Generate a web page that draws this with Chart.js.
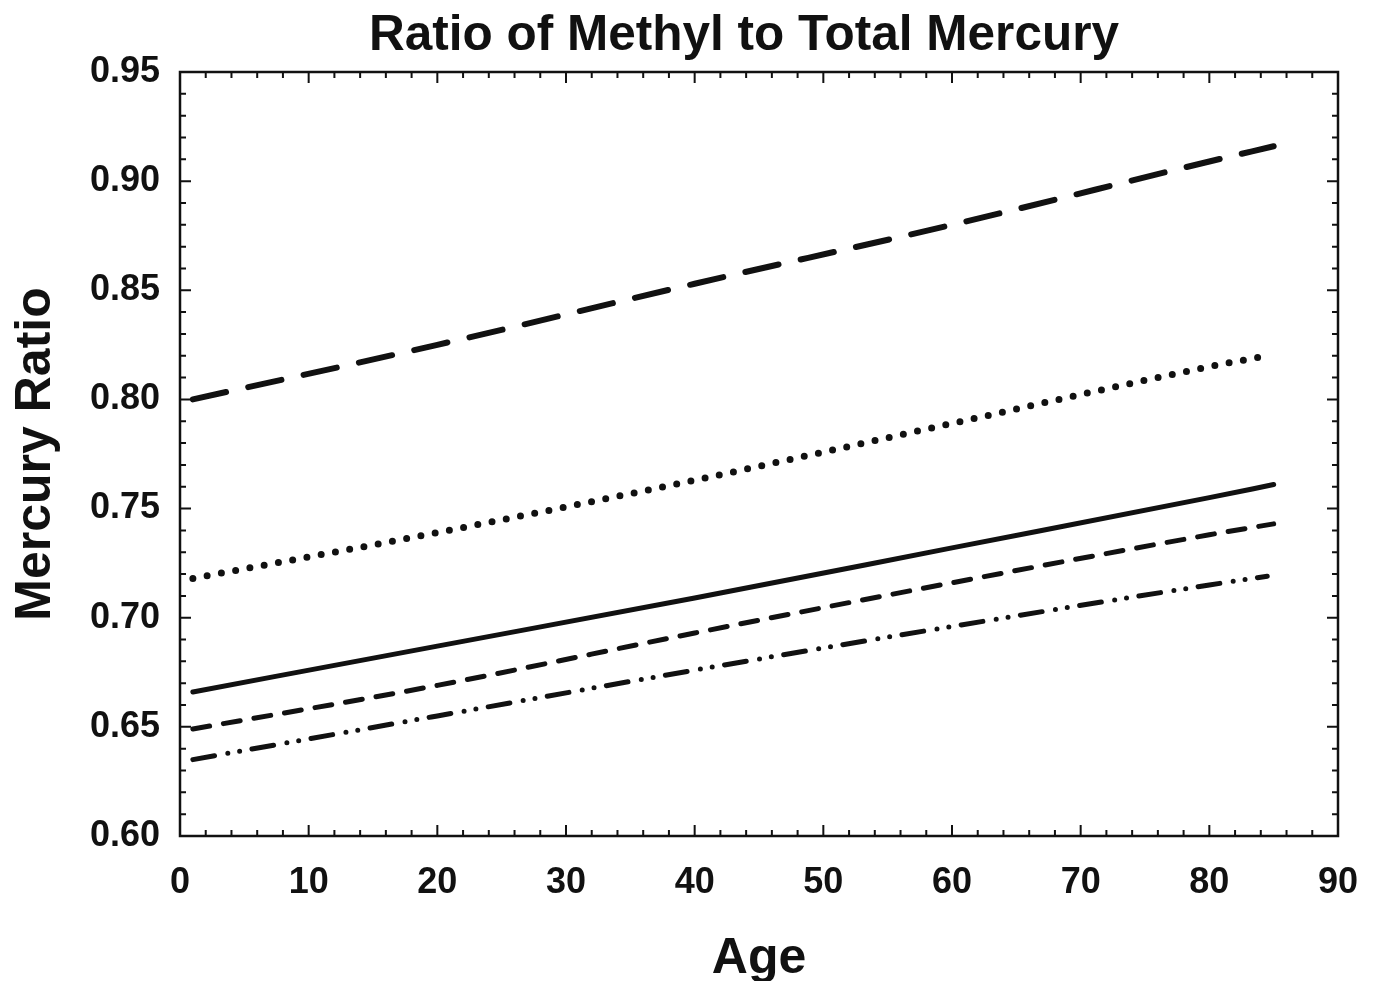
<!DOCTYPE html>
<html>
<head>
<meta charset="utf-8">
<script src="https://cdn.jsdelivr.net/npm/chart.js@4.4.0/dist/chart.umd.min.js"></script>
<style>
  body { margin: 0; background: #fff; }
  #wrap { width: 1376px; height: 981px; }
</style>
</head>
<body>
<div id="wrap"><canvas id="mercuryChart" width="1376" height="981"></canvas></div>
<script>
// Datos
const ages = [1, 20, 40, 60, 80, 85];
const agesShort = [1, 20, 40, 60, 80, 84.5];
const longDash = [0.800, 0.825, 0.853, 0.880, 0.909, 0.916];
const dotted = [0.718, 0.739, 0.763, 0.789, 0.815, 0.820];
const solid = [0.666, 0.687, 0.709, 0.732, 0.755, 0.761];
const dashed = [0.649, 0.669, 0.693, 0.716, 0.738, 0.743];
const dashDot = [0.635, 0.655, 0.676, 0.696, 0.715, 0.719];

const xTicks = [0, 10, 20, 30, 40, 50, 60, 70, 80, 90];
const yTicks = [0.60, 0.65, 0.70, 0.75, 0.80, 0.85, 0.90, 0.95];

const FONT = '"Liberation Sans", Arial, sans-serif';
const INK = '#111';

function pts(xs, ys) {
    return xs.map((x, i) => ({ x: x, y: ys[i] }));
}

function serie(xs, ys, width, dash) {
    return {
        data: pts(xs, ys),
        borderColor: INK,
        borderWidth: width,
        borderDash: dash,
        borderCapStyle: 'round',
        pointRadius: 0,
        tension: 0.4,
        cubicInterpolationMode: 'monotone'
    };
}

// Marco y marcas hacia dentro en los cuatro lados
const frameTicks = {
    id: 'frameTicks',
    afterDatasetsDraw(chart) {
        const { ctx, chartArea: a, scales } = chart;
        ctx.save();
        ctx.strokeStyle = INK;
        ctx.lineWidth = 2;
        const mark = (scale, vals, isX) => {
            vals.forEach((v, i) => {
                const sub = i < vals.length - 1 ? [0, 1, 2, 3, 4] : [0];
                sub.forEach(k => {
                    const val = i < vals.length - 1 ? v + (vals[i + 1] - v) * k / 5 : v;
                    const len = k === 0 ? 11 : 6;
                    const p = scale.getPixelForValue(val);
                    ctx.beginPath();
                    if (isX) {
                        ctx.moveTo(p, a.bottom); ctx.lineTo(p, a.bottom - len);
                        ctx.moveTo(p, a.top); ctx.lineTo(p, a.top + len);
                    } else {
                        ctx.moveTo(a.left, p); ctx.lineTo(a.left + len, p);
                        ctx.moveTo(a.right, p); ctx.lineTo(a.right - len, p);
                    }
                    ctx.stroke();
                });
            });
        };
        mark(scales.x, xTicks, true);
        mark(scales.y, yTicks, false);
        ctx.lineWidth = 2.5;
        ctx.strokeRect(a.left, a.top, a.right - a.left, a.bottom - a.top);
        ctx.restore();
    }
};

// Título del gráfico
const chartTitle = {
    id: 'chartTitle',
    afterDraw(chart) {
        const ctx = chart.ctx;
        ctx.save();
        ctx.fillStyle = INK;
        ctx.font = 'bold 49.5px ' + FONT;
        ctx.textAlign = 'center';
        ctx.textBaseline = 'alphabetic';
        ctx.fillText('Ratio of Methyl to Total Mercury', 744, 50);
        ctx.restore();
    }
};

new Chart(document.getElementById('mercuryChart').getContext('2d'), {
    type: 'line',
    data: {
        datasets: [
            serie(ages, longDash, 6, [34, 22.7]),
            serie(agesShort, dotted, 7, [0, 14.5]),
            serie(ages, solid, 5, []),
            serie(ages, dashed, 5, [17, 14]),
            serie(agesShort, dashDot, 5, [22, 13.5, 0, 12, 0, 12.5])
        ]
    },
    options: {
        responsive: false,
        animation: false,
        layout: { padding: { top: 72, right: 38, bottom: 0, left: 0 } },
        plugins: {
            legend: { display: false },
            tooltip: { enabled: false },
            title: { display: false }
        },
        scales: {
            x: {
                type: 'linear',
                min: 0,
                max: 90,
                afterFit: s => { s.height = 145; s.paddingLeft = 0; s.paddingRight = 0; },
                afterBuildTicks: s => { s.ticks = xTicks.map(v => ({ value: v })); },
                grid: { display: false, drawTicks: false },
                border: { display: false },
                ticks: {
                    color: INK,
                    padding: 25,
                    font: { family: FONT, size: 36, weight: 'bold' },
                    callback: v => String(v)
                },
                title: {
                    display: true,
                    text: 'Age',
                    color: INK,
                    padding: { top: 0, bottom: 0 },
                    font: { family: FONT, size: 50, weight: 'bold', lineHeight: 0.88 }
                }
            },
            y: {
                type: 'linear',
                min: 0.60,
                max: 0.95,
                afterFit: s => { s.width = 180; },
                afterBuildTicks: s => { s.ticks = yTicks.map(v => ({ value: v })); },
                grid: { display: false, drawTicks: false },
                border: { display: false },
                ticks: {
                    color: INK,
                    padding: 20,
                    font: { family: FONT, size: 36, weight: 'bold' },
                    callback: v => Number(v).toFixed(2)
                },
                title: {
                    display: true,
                    text: 'Mercury Ratio',
                    color: INK,
                    padding: { top: 6, bottom: 0 },
                    font: { family: FONT, size: 50, weight: 'bold' }
                }
            }
        }
    },
    plugins: [frameTicks, chartTitle]
});
</script>
</body>
</html>
